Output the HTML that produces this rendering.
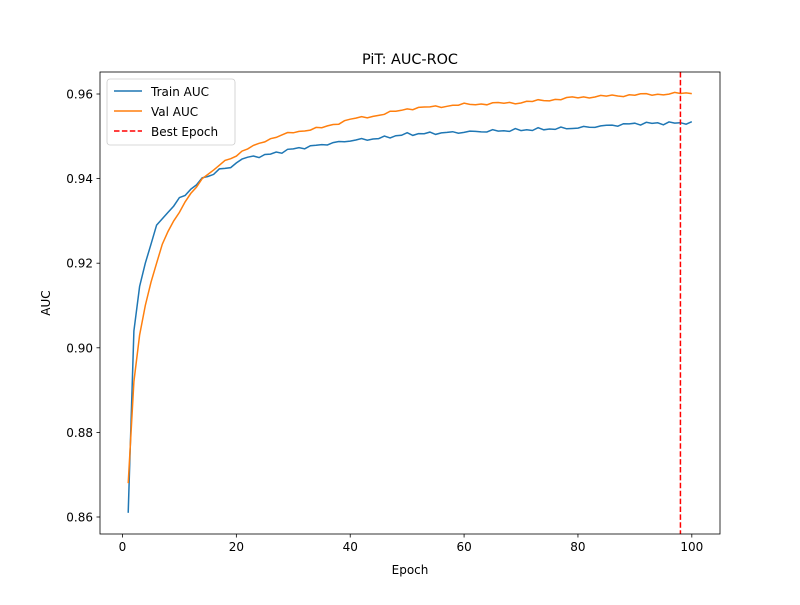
<!DOCTYPE html>
<html><head><meta charset="utf-8"><style>
body{margin:0;background:#fff}
svg text{font-family:"DejaVu Sans","Liberation Sans",sans-serif;fill:#000}
</style></head><body>
<svg id="s" width="800" height="600" xmlns="http://www.w3.org/2000/svg">
<rect width="800" height="600" fill="#fff"/>
<text x="410" y="64" font-size="14.4" text-anchor="middle">PiT: AUC-ROC</text>
<g id="plot"></g>
<rect x="100" y="72" width="620" height="462" fill="none" stroke="#000" stroke-width="0.8"/>
<g id="ticks" font-size="12"></g>
<text x="410" y="574" font-size="12" text-anchor="middle">Epoch</text>
<text x="50" y="303" font-size="12" text-anchor="middle" transform="rotate(-90 50 303)">AUC</text>
<g>
<rect x="107" y="79" width="128" height="66" rx="3" fill="#fff" fill-opacity="0.8" stroke="#ccc" stroke-width="0.8"/>
<line x1="114" y1="91" x2="142" y2="91" stroke="#1f77b4" stroke-width="1.5"/>
<text x="151" y="96" font-size="12">Train AUC</text>
<line x1="114" y1="111" x2="142" y2="111" stroke="#ff7f0e" stroke-width="1.5"/>
<text x="151" y="116" font-size="12">Val AUC</text>
<line x1="114" y1="131" x2="142" y2="131" stroke="#d62728" stroke-width="1.5" stroke-dasharray="5.5,2.4" style="stroke:red"/>
<text x="151" y="136" font-size="12">Best Epoch</text>
</g>
</svg>
<script>
function X(e){return 100+(e+3.95)/108.9*620}
function Y(v){return 517-(v-0.86)/0.1*423}
function interp(k,e){for(let i=0;i<k.length-1;i++){if(e>=k[i][0]&&e<=k[i+1][0]){let t=(e-k[i][0])/(k[i+1][0]-k[i][0]);return k[i][1]+t*(k[i+1][1]-k[i][1]);}}return k[k.length-1][1]}
const tr=[[1,.861],[2,.904],[3,.9145],[4,.920],[5,.9245],[6,.929],[7,.9305],[8,.932],[9,.9335],[10,.9355],[11,.936],[12,.9375],[13,.9385],[14,.9402],[15,.9405],[16,.941],[17,.9423],[19,.9425],[20,.944],[22,.945],[25,.9455],[30,.947],[35,.948],[40,.949],[45,.9495],[50,.9505],[60,.951],[70,.9515],[80,.952],[90,.953],[100,.9532]];
const va=[[1,.868],[2,.892],[3,.903],[4,.910],[5,.9155],[6,.920],[7,.9245],[8,.9275],[9,.930],[10,.932],[11,.9345],[12,.9365],[13,.938],[14,.940],[15,.941],[16,.942],[18,.9443],[20,.9455],[22,.947],[25,.949],[30,.951],[35,.952],[40,.954],[45,.955],[50,.9565],[60,.9575],[70,.958],[80,.9592],[90,.9598],[100,.9602]];
function pts(k,a,sd){let p=[];for(let e=1;e<=100;e++){let v=interp(k,e);if(e>18)v+=a*Math.sin(e*sd)*Math.cos(e*0.7+sd);p.push(X(e).toFixed(1)+","+Y(v).toFixed(1));}return p.join(" ")}
let g=document.getElementById("plot");
g.innerHTML='<polyline points="'+pts(tr,0.0004,2.3)+'" fill="none" stroke="#1f77b4" stroke-width="1.5"/>'+
'<polyline points="'+pts(va,0.00035,1.7)+'" fill="none" stroke="#ff7f0e" stroke-width="1.5"/>'+
'<line x1="'+X(98)+'" y1="72" x2="'+X(98)+'" y2="534" stroke="red" stroke-width="1.5" stroke-dasharray="5.5,2.4"/>';
let t="";
for(let e=0;e<=100;e+=20){let x=X(e);t+='<line x1="'+x+'" y1="534" x2="'+x+'" y2="537.5" stroke="#000" stroke-width="0.8"/><text x="'+x+'" y="551" text-anchor="middle">'+e+'</text>';}
for(let i=0;i<6;i++){let v=0.86+i*0.02,y=Y(v);t+='<line x1="96.5" y1="'+y+'" x2="100" y2="'+y+'" stroke="#000" stroke-width="0.8"/><text x="93" y="'+(y+4.5)+'" text-anchor="end">'+v.toFixed(2)+'</text>';}
document.getElementById("ticks").innerHTML=t;
</script>
</body></html>
